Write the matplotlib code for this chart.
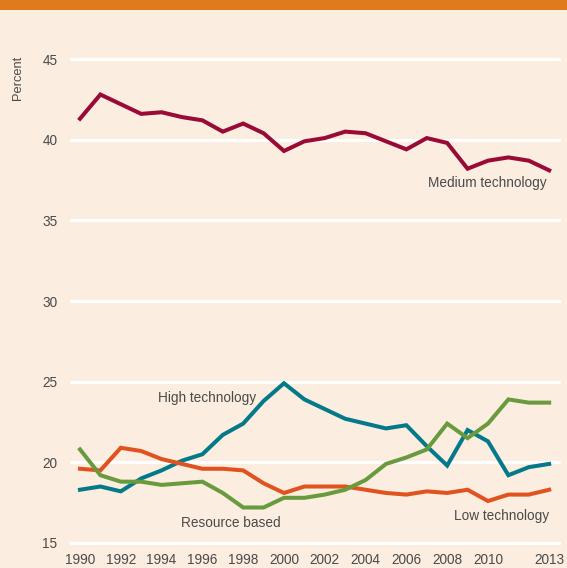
import matplotlib
matplotlib.use('Agg')
import matplotlib.pyplot as plt
from matplotlib.patches import Rectangle

plt.rcParams['font.family'] = ['Liberation Sans', 'DejaVu Sans']

years = list(range(1990, 2014))

medium_tech = [41.3, 42.8, 42.2, 41.6, 41.7, 41.4, 41.2, 40.5, 41.0, 40.4,
               39.3, 39.9, 40.1, 40.5, 40.4, 39.9, 39.4, 40.1, 39.8, 38.2,
               38.7, 38.9, 38.7, 38.1]
high_tech = [18.3, 18.5, 18.2, 19.0, 19.5, 20.1, 20.5, 21.7, 22.4, 23.8,
             24.9, 23.9, 23.3, 22.7, 22.4, 22.1, 22.3, 21.0, 19.8, 22.0,
             21.3, 19.2, 19.7, 19.9]
low_tech = [19.6, 19.5, 20.9, 20.7, 20.2, 19.9, 19.6, 19.6, 19.5, 18.7,
            18.1, 18.5, 18.5, 18.5, 18.3, 18.1, 18.0, 18.2, 18.1, 18.3,
            17.6, 18.0, 18.0, 18.3]
resource_based = [20.8, 19.2, 18.8, 18.8, 18.6, 18.7, 18.8, 18.1, 17.2, 17.2,
                  17.8, 17.8, 18.0, 18.3, 18.9, 19.9, 20.3, 20.8, 22.4, 21.5,
                  22.4, 23.9, 23.7, 23.7]

y_ticks = [15, 20, 25, 30, 35, 40, 45]
x_ticks = [1990, 1992, 1994, 1996, 1998, 2000, 2002, 2004, 2006, 2008, 2010, 2013]

bg = '#fbeddf'
text_col = '#4a4a4a'

fig = plt.figure(figsize=(5.67, 5.68), dpi=100, facecolor=bg)
ax = fig.add_axes([70 / 567, 1 - 546.2 / 568, 491 / 567, 490.4 / 568])
ax.set_facecolor(bg)

# orange banner across the top
fig.patches.append(Rectangle((0, 1 - 10 / 568), 1, 10 / 568, transform=fig.transFigure,
                             facecolor='#e07a1c', edgecolor='none'))

for y in y_ticks:
    ax.axhline(y, color='white', lw=2.2, zorder=1)

series = [
    (medium_tech, '#9a0a36'),
    (high_tech, '#03798a'),
    (low_tech, '#e0531f'),
    (resource_based, '#6a9a3e'),
]
for vals, col in series:
    ax.plot(years, vals, color=col, lw=2.9, solid_joinstyle='miter', zorder=3)

ax.set_xlim(1989.51, 2013.58)
ax.set_ylim(14.8, 45.2)
ax.set_xticks(x_ticks)
ax.set_yticks(y_ticks)
ax.tick_params(length=0, labelsize=9.8, labelcolor=text_col)
ax.tick_params(axis='y', pad=9)
ax.tick_params(axis='x', pad=5)
for s in ax.spines.values():
    s.set_visible(False)

fig.text(18 / 567, 1 - 56 / 568, 'Percent', rotation=90, ha='center', va='top',
         fontsize=9.3, color=text_col)

labels = [
    ('Medium technology', 2007.06, 37.31),
    ('High technology', 1993.82, 24.0),
    ('Resource based', 1994.95, 16.25),
    ('Low technology', 2008.33, 16.67),
]
for txt, x, y in labels:
    ax.text(x, y, txt, ha='left', va='center', fontsize=9.8, color=text_col, zorder=4)

fig.savefig('out.png', dpi=100, facecolor=bg)
